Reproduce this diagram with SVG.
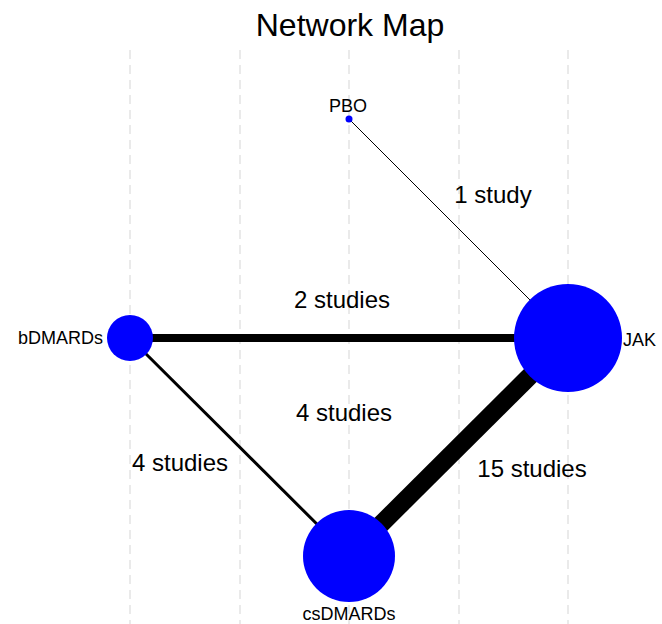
<svg xmlns="http://www.w3.org/2000/svg" width="662" height="624" viewBox="0 0 662 624">
<style>
.grid{stroke:#e4e4e4;stroke-width:1.5;stroke-dasharray:9,6;fill:none}
.edge{stroke:#000;stroke-linecap:butt;fill:none}
.node{fill:#0000ff}
.lbl{font-family:"Liberation Sans",Arial,sans-serif;font-size:18px;fill:#000}
.elbl{font-family:"Liberation Sans",Arial,sans-serif;font-size:24px;fill:#000;text-anchor:middle}
.title{font-family:"Liberation Sans",Arial,sans-serif;font-size:32px;fill:#000;text-anchor:middle}
</style>
<rect width="662" height="624" fill="#fff"/>
<g id="grid">
<line class="grid" x1="130" y1="50" x2="130" y2="624"/>
<line class="grid" x1="240" y1="50" x2="240" y2="624"/>
<line class="grid" x1="349" y1="50" x2="349" y2="624"/>
<line class="grid" x1="459" y1="50" x2="459" y2="624"/>
<line class="grid" x1="568" y1="50" x2="568" y2="624"/>
</g>
<text class="title" x="350" y="36">Network Map</text>
<g id="connectors">
<line class="edge" x1="349" y1="119" x2="568" y2="338" stroke-width="1"/>
<line class="edge" x1="130" y1="338" x2="568" y2="338" stroke-width="8"/>
<line class="edge" x1="130" y1="338" x2="349" y2="556" stroke-width="3"/>
<line class="edge" x1="568" y1="338" x2="349" y2="556" stroke-width="18"/>
<text class="elbl" x="493" y="203">1 study</text>
<text class="elbl" x="342" y="308">2 studies</text>
<text class="elbl" x="344" y="421">4 studies</text>
<text class="elbl" x="180" y="471">4 studies</text>
<text class="elbl" x="532" y="477">15 studies</text>
</g>
<g id="PBO">
<circle class="node" cx="349" cy="119" r="3.5"/>
<text class="lbl" x="348" y="112" text-anchor="middle">PBO</text>
</g>
<g id="bDMARDs">
<circle class="node" cx="130" cy="338" r="23"/>
<text class="lbl" x="103" y="344" text-anchor="end">bDMARDs</text>
</g>
<g id="JAK">
<circle class="node" cx="568" cy="338" r="54"/>
<text class="lbl" x="623" y="346">JAK</text>
</g>
<g id="csDMARDs">
<circle class="node" cx="349" cy="556" r="46"/>
<text class="lbl" x="349" y="620" text-anchor="middle">csDMARDs</text>
</g>
</svg>
